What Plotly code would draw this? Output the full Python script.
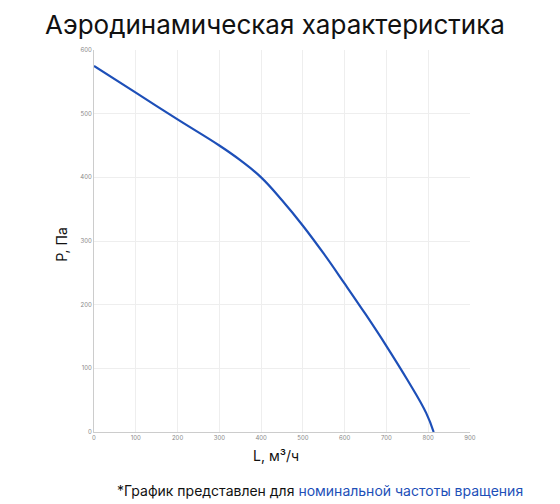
import plotly.graph_objects as go

# Аэродинамическая характеристика: расход L (м³/ч) и давление P (Па)
flow = [0, 100, 200, 300, 350, 400, 450, 500, 550, 600, 650, 700, 750, 795, 813]
pressure = [575, 533, 491, 450, 427, 400, 364, 324, 280, 233, 185, 135, 82, 30, 0]

x_ticks = [0, 100, 200, 300, 400, 500, 600, 700, 800, 900]
y_ticks = [0, 100, 200, 300, 400, 500, 600]

blue = "#1d4fb8"
font_main = "Inter"

fig = go.Figure()

fig.add_trace(
    go.Scatter(
        x=flow,
        y=pressure,
        mode="lines",
        line=dict(color=blue, width=2.2, shape="spline", smoothing=1.2),
        hoverinfo="x+y",
    )
)

# страница имеет отступ 8px, поэтому размеры чуть меньше окна
fig.update_layout(
    width=552,
    height=496,
    margin=dict(l=86, r=90, t=42, b=72),
    paper_bgcolor="white",
    plot_bgcolor="white",
    showlegend=False,
    font=dict(family=font_main, color="#111111"),
    annotations=[
        dict(
            text="Аэродинамическая характеристика",
            xref="paper", yref="paper", x=0.481, y=1,
            xanchor="center", yanchor="middle", yshift=26,
            showarrow=False, font=dict(size=26, color="#111111", family=font_main),
        ),
        dict(
            text="L, м³/ч",
            xref="paper", yref="paper", x=0.484, y=0,
            xanchor="center", yanchor="middle", yshift=-23,
            showarrow=False, font=dict(size=14, color="#111111", family=font_main),
        ),
        dict(
            text="Р, Па",
            xref="paper", yref="paper", x=0, y=0.49,
            xanchor="center", yanchor="middle", xshift=-32, textangle=-90,
            showarrow=False, font=dict(size=14, color="#111111", family=font_main),
        ),
        dict(
            text="*График представлен для <span style='color:" + blue + "'>номинальной частоты вращения</span>",
            xref="paper", yref="paper", x=0.602, y=0,
            xanchor="center", yanchor="middle", yshift=-58,
            showarrow=False, font=dict(size=14, color="#111111", family=font_main),
        ),
    ],
)

fig.update_xaxes(
    range=[0, 900],
    tickvals=x_ticks,
    tickfont=dict(size=6, color="#888888"),
    showgrid=True, gridcolor="#eeeeee", gridwidth=1,
    showline=True, linecolor="#cccccc", linewidth=1,
    zeroline=False,
    ticks="", ticklen=0,
)
fig.update_yaxes(
    range=[0, 600],
    tickvals=y_ticks,
    tickfont=dict(size=6, color="#888888"),
    showgrid=True, gridcolor="#eeeeee", gridwidth=1,
    showline=True, linecolor="#cccccc", linewidth=1,
    zeroline=False,
    ticks="", ticklen=0,
)

fig.write_html("out.html")
